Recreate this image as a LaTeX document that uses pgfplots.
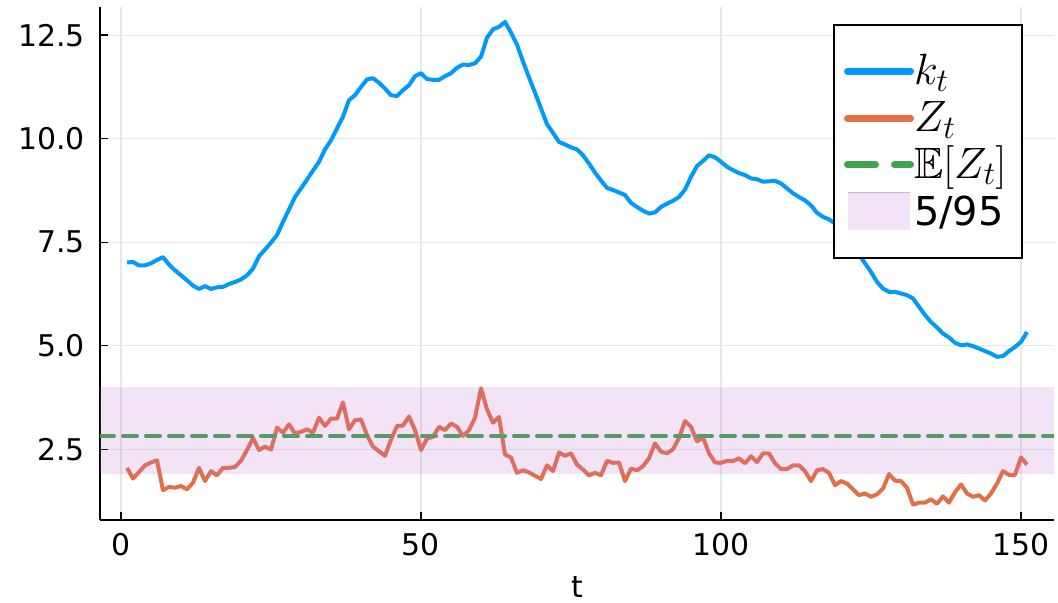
\RequirePackage{fix-cm}
\documentclass[border=0pt]{standalone}
\usepackage{fontspec}
\setmainfont{DejaVu Sans}
\usepackage{amssymb}
% scalable blackboard letters for the large legend
\DeclareFontFamily{U}{msb}{}
\DeclareFontShape{U}{msb}{m}{n}{<-6> msbm5 <6-8> msbm7 <8-> msbm10}{}
\DeclareMathSizes{40}{40}{28}{20}
\DeclareMathSizes{44}{44}{33}{22}
\newcommand{\legmath}[1]{{\fontsize{44}{46}\selectfont$#1$}}
\usepackage{pgfplots}
\pgfplotsset{compat=1.18}
\usepackage{pgfplotstable}

\definecolor{kblue}{HTML}{009AFA}
\definecolor{zorange}{HTML}{E36F47}
\definecolor{egreen}{HTML}{3EA44E}
\definecolor{bandpurple}{HTML}{C271D2}
\definecolor{bandpatch}{HTML}{F3E3F6}
\definecolor{bandedge}{HTML}{DDA8E6}

% capital stock k_t
\pgfplotstableread{
t k
1 7.01
2 7.02
3 6.94
4 6.94
5 6.99
6 7.07
7 7.14
8 6.96
9 6.82
10 6.70
11 6.58
12 6.45
13 6.37
14 6.44
15 6.37
16 6.41
17 6.42
18 6.49
19 6.54
20 6.60
21 6.70
22 6.86
23 7.16
24 7.32
25 7.49
26 7.67
27 7.99
28 8.29
29 8.59
30 8.80
31 9.01
32 9.23
33 9.44
34 9.74
35 9.96
36 10.25
37 10.53
38 10.93
39 11.05
40 11.25
41 11.43
42 11.46
43 11.35
44 11.21
45 11.05
46 11.03
47 11.17
48 11.29
49 11.51
50 11.58
51 11.44
52 11.42
53 11.42
54 11.51
55 11.58
56 11.71
57 11.79
58 11.78
59 11.82
60 11.98
61 12.44
62 12.64
63 12.70
64 12.82
65 12.56
66 12.27
67 11.86
68 11.48
69 11.11
70 10.73
71 10.35
72 10.14
73 9.92
74 9.86
75 9.79
76 9.74
77 9.60
78 9.40
79 9.18
80 8.99
81 8.81
82 8.76
83 8.70
84 8.64
85 8.45
86 8.35
87 8.26
88 8.19
89 8.22
90 8.35
91 8.43
92 8.50
93 8.59
94 8.77
95 9.08
96 9.34
97 9.46
98 9.60
99 9.55
100 9.44
101 9.32
102 9.24
103 9.17
104 9.12
105 9.04
106 9.02
107 8.96
108 8.97
109 8.98
110 8.92
111 8.80
112 8.68
113 8.59
114 8.51
115 8.39
116 8.21
117 8.11
118 8.05
119 7.95
120 7.82
121 7.65
122 7.42
123 7.20
124 6.99
125 6.78
126 6.54
127 6.38
128 6.30
129 6.30
130 6.26
131 6.22
132 6.14
133 5.94
134 5.74
135 5.57
136 5.44
137 5.29
138 5.20
139 5.07
140 5.01
141 5.03
142 4.99
143 4.93
144 4.87
145 4.81
146 4.73
147 4.75
148 4.87
149 4.97
150 5.09
151 5.33
}\kdata

% productivity Z_t
\pgfplotstableread{
t z
1 2.05
2 1.79
3 1.95
4 2.11
5 2.18
6 2.23
7 1.51
8 1.59
9 1.57
10 1.61
11 1.53
12 1.69
13 2.05
14 1.73
15 1.97
16 1.87
17 2.05
18 2.05
19 2.07
20 2.22
21 2.48
22 2.77
23 2.48
24 2.56
25 2.49
26 3.02
27 2.90
28 3.10
29 2.88
30 2.92
31 2.98
32 2.90
33 3.26
34 3.06
35 3.24
36 3.24
37 3.63
38 2.98
39 3.20
40 3.22
41 2.84
42 2.56
43 2.45
44 2.34
45 2.73
46 3.06
47 3.07
48 3.29
49 2.96
50 2.48
51 2.76
52 2.80
53 3.04
54 2.96
55 3.12
56 3.04
57 2.82
58 2.96
59 3.26
60 3.97
61 3.46
62 3.14
63 3.28
64 2.37
65 2.30
66 1.93
67 1.99
68 1.94
69 1.86
70 1.78
71 2.11
72 1.97
73 2.42
74 2.34
75 2.40
76 2.13
77 2.01
78 1.87
79 1.93
80 1.87
81 2.22
82 2.17
83 2.18
84 1.73
85 2.03
86 1.99
87 2.09
88 2.28
89 2.64
90 2.44
91 2.40
92 2.50
93 2.77
94 3.18
95 3.04
96 2.69
97 2.78
98 2.40
99 2.18
100 2.17
101 2.22
102 2.21
103 2.28
104 2.16
105 2.33
106 2.19
107 2.40
108 2.40
109 2.16
110 2.02
111 2.02
112 2.11
113 2.11
114 1.97
115 1.73
116 1.99
117 2.02
118 1.93
119 1.63
120 1.73
121 1.67
122 1.53
123 1.39
124 1.43
125 1.35
126 1.41
127 1.55
128 1.90
129 1.74
130 1.73
131 1.57
132 1.16
133 1.21
134 1.21
135 1.29
136 1.18
137 1.36
138 1.21
139 1.46
140 1.65
141 1.43
142 1.35
143 1.39
144 1.26
145 1.43
146 1.67
147 1.97
148 1.88
149 1.88
150 2.30
151 2.13
}\zdata

\begin{document}
\begin{tikzpicture}
\useasboundingbox (0,0) rectangle (1058bp,603bp);
\begin{axis}[
  at={(100bp,83bp)}, anchor=south west,
  scale only axis, width=954bp, height=513bp,
  xmin=-3.5, xmax=155.5, ymin=0.79, ymax=13.18,
  axis lines=left,
  axis line style={-, line width=1.6bp, black},
  xtick={0,50,100,150},
  ytick={2.5,5,7.5,10,12.5},
  tick align=inside,
  major tick length=8bp,
  every tick/.style={black, line width=1.3bp},
  grid=major,
  major grid style={line width=1.2bp, black!9},
  /pgf/number format/assume math mode=true,
  tick label style={font=\fontsize{30}{36}\selectfont},
  yticklabel style={inner sep=0pt, anchor=east, xshift=-15bp,
    /pgf/number format/fixed, /pgf/number format/fixed zerofill,
    /pgf/number format/precision=1},
  xticklabel style={inner sep=0pt, anchor=north, yshift=-13bp},
  xlabel={t},
  xlabel style={font=\fontsize{30}{36}\selectfont, at={(axis description cs:0.5,0)},
    anchor=north, inner sep=0pt, yshift=-56bp},
  legend cell align=left,
  legend style={
    at={(axis description cs:0.9675,0.9669)}, anchor=north east,
    draw=black, line width=2bp, fill=white,
    inner xsep=10.5bp, inner ysep=23bp,
    font=\fontsize{40}{46}\selectfont,
    row sep=0pt,
    nodes={inner sep=0pt, text height=37bp, text depth=9.7bp, text width=97.5bp, align=left},
    /tikz/every even column/.append style={column sep=10.5bp},
  },
]
\addplot[kblue, line width=4bp, line join=round,
  legend image code/.code={\draw[kblue, line width=7bp, line cap=round, solid] (0bp,0bp) -- (63bp,0bp);}]
  table[x=t, y=k] {\kdata};
\addlegendentry{\legmath{k_t}}

\addplot[zorange, line width=4bp, line join=round,
  legend image code/.code={\draw[zorange, line width=7bp, line cap=round, solid] (0bp,0bp) -- (63bp,0bp);}]
  table[x=t, y=z] {\zdata};
\addlegendentry{\legmath{Z_t}}

\addplot[egreen, line width=4bp, line cap=round, dash pattern=on 14bp off 9bp,
  legend image code/.code={\draw[egreen, line width=7bp, line cap=round, dash pattern=on 28bp off 19bp] (0bp,0bp) -- (63bp,0bp);}]
  coordinates {(-3.5,2.82) (155.5,2.82)};
\addlegendentry{\legmath{\mathbb{E}[Z_t]}}

\addplot[draw=none, fill=bandpurple, fill opacity=0.2,
  legend image code/.code={
    \fill[bandpatch, fill opacity=1] (0.5bp,-19bp) rectangle (62.5bp,19bp);
    \draw[bandedge, draw opacity=1, line width=1.2bp, solid] (0.5bp,18.6bp) -- (62.5bp,18.6bp);}]
  coordinates {(-3.5,1.913) (155.5,1.913) (155.5,4.005) (-3.5,4.005)} -- cycle;
\addlegendentry{5/95}
\end{axis}
\end{tikzpicture}
\end{document}
